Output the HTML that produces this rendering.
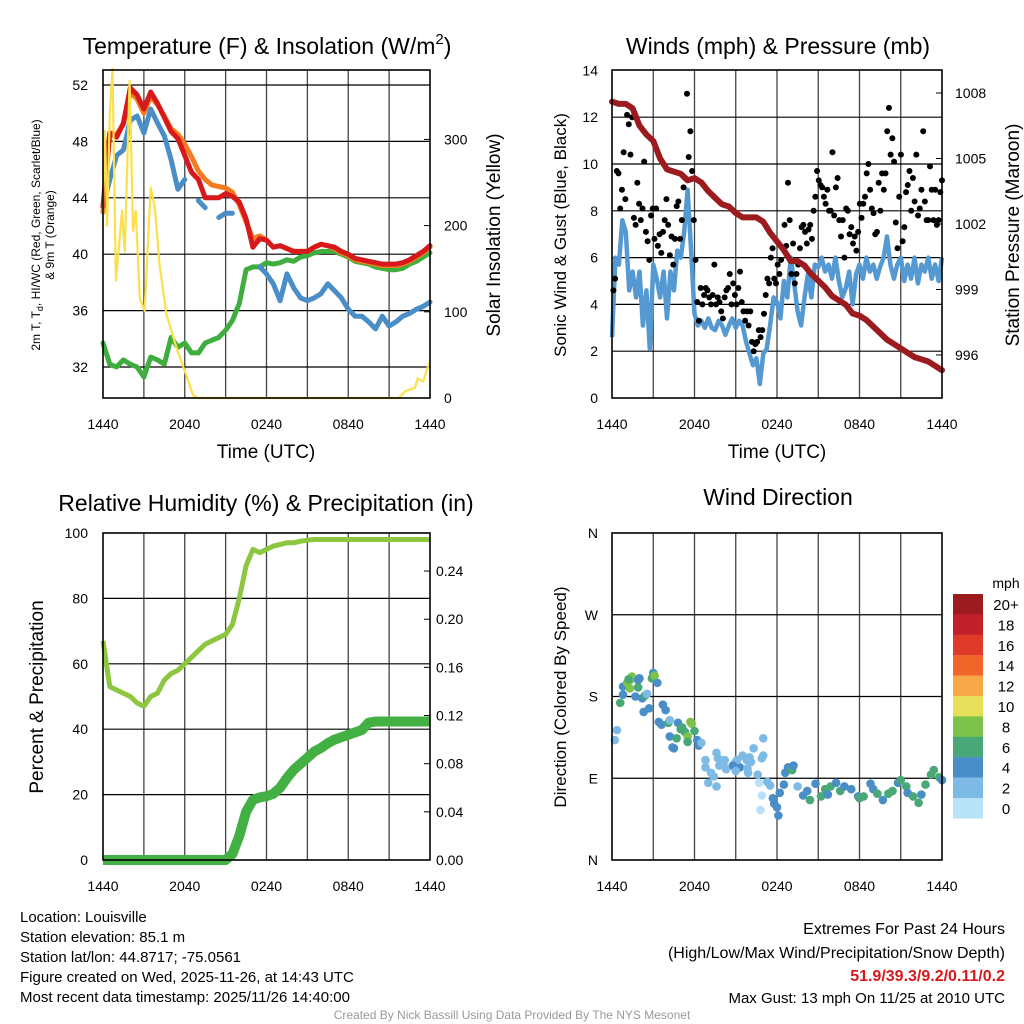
<!DOCTYPE html>
<html><head><meta charset="utf-8"><style>
html,body{margin:0;padding:0;background:#fff;}
svg{display:block;font-family:"Liberation Sans",Arial,sans-serif;}
</style></head><body>
<svg id="c" width="1024" height="1024" viewBox="0 0 1024 1024"></svg>
<script>
// ---------- data ----------
const xTickLabels = ["1440","2040","0240","0840","1440"];
const tempTicks = [32,36,40,44,48,52];
const solarTicks = [0,100,200,300];
const windTicks = [0,2,4,6,8,10,12,14];
const presTicks = [996,999,1002,1005,1008];
const rhTicks = [0,20,40,60,80,100];
const precipTicks = [0,0.04,0.08,0.12,0.16,0.20,0.24];
const precipTickLabels = ["0.00","0.04","0.08","0.12","0.16","0.20","0.24"];
const dirTickDeg = [0,90,180,270,360];
const dirTickLabels = ["N","E","S","W","N"];
const speedBins = ["20+","18","16","14","12","10","8","6","4","2","0"];
const speedColors = ["#9b1b1e","#c0202a","#e03a2b","#f0652a","#f7a745","#e6e05a","#7dc24b","#48a878","#4a8ec8","#7dbbe6","#b8e2f8"];

const tempT2m = [43.4,48.6,48.3,49.3,51.8,51.3,50.3,51.5,50.7,49.7,48.7,48.2,47,45.8,45.3,44,44,44,44.3,44.1,43.7,42.5,40.5,41.1,41,40.5,40.6,40.4,40.2,40.2,40.2,40.5,40.7,40.6,40.5,40.2,40,39.7,39.6,39.5,39.4,39.3,39.3,39.3,39.4,39.6,39.9,40.2,40.6];
const tempT9m = [43.0,48.6,48.5,49.2,51.5,51.0,50.0,51.2,50.6,49.8,48.9,48.5,47.8,46.9,45.9,45.3,44.9,44.8,44.7,44.4,43.5,42.3,41.1,41.3,41.0,40.5,40.6,40.4,40.2,40.2,40.2,40.5,40.7,40.6,40.4,40.1,39.9,39.6,39.5,39.4,39.3,39.2,39.2,39.2,39.3,39.5,39.8,40.1,40.5];
const tempHIWC = [43.4,45.3,47,47.4,49.5,49.8,48.6,50.3,49.3,48.4,46.7,44.6,45.3,null,43.8,43.3,null,42.6,42.9,42.9,null,null,null,39.1,38.6,37.9,36.7,38.6,37.6,36.9,36.7,36.9,37.2,37.9,37.4,36.9,36.1,35.6,35.6,35.2,34.7,35.6,34.9,35.2,35.6,35.8,36.1,36.3,36.6];
const tempTd = [33.7,32.2,32,32.5,32.2,32,31.3,32.7,32.5,32.2,34.1,33.4,33.7,33,33,33.7,33.9,34.1,34.6,35.3,36.5,38.9,39.1,39.1,39.4,39.3,39.4,39.6,39.5,39.8,39.9,40.1,40.2,40.2,40.2,40,39.8,39.5,39.4,39.3,39.1,39,38.9,38.9,39,39.3,39.5,39.8,40.1];
const solarHours = [0,0.15,0.3,0.5,0.7,0.95,1.4,1.6,1.95,2.2,2.4,2.7,3.05,3.5,3.8,4.15,4.65,5.4,6.1,6.6,6.9,21.7,22.2,22.9,23.1,23.5,23.9,24];
const solarValues = [213,310,200,330,382,136,217,170,368,194,217,116,101,244,221,155,97,58,27,4,0,0,8,12,23,19,39,40];

const sonicWind = [2.6,6,5.7,7.6,7.1,4.6,5.4,4.3,5.4,3.1,4.6,2.1,5.7,5.1,4.3,5.4,3.4,5.4,4.6,6.3,6,7.1,8.9,6.3,3.6,3.1,3.3,3,3.4,3,2.9,3.3,3.1,2.7,3.1,3.4,3,3.3,3.1,2.4,1.9,1.4,1.7,0.6,1.9,2.1,3.1,4.3,4.1,3.4,5,4.3,6,4.9,3.7,3.1,4.3,5.3,4.3,5.7,5.6,6,5.4,5.7,5.1,6,5,4.3,4.7,5.4,4,5.3,5.7,5.1,6,5.4,5.7,5.1,5.6,6,6.9,5.7,5.1,5.7,6,5,5.7,5.1,6,4.9,5.7,5.4,6,5.1,5.7,5,6];
const gustValues = [4.6,5.1,9.7,9.6,8.1,8.9,10.5,8.5,12.1,11.7,10.4,12,7.7,7.4,9.2,8.3,7.6,8.1,10.1,7.1,6.7,5.9,7.8,8.1,6.8,8.1,6.5,7,6.2,7.1,7.6,8.5,7.4,6.1,6.9,5.7,6.8,8.2,8.4,6.8,7.6,9,9.4,13,10.3,11.4,9.7,7.6,5.9,4.1,3.3,4.7,4,4.4,4.7,4.6,4.3,4,4.4,5.7,4,4.3,4.1,3.7,3.4,4.3,4.6,4.7,5.3,4,4.9,4.4,4,4.7,5.4,4.1,3.7,3.3,3.7,3.1,3.7,2.4,2,2.3,2.4,2.9,2.6,2.9,3.6,4.4,5.1,4.9,6,6.4,5.1,4.9,5.7,5.3,5.9,6.4,7.4,6.5,9.2,7.6,5.3,6.6,4.9,5.3,5.7,6.4,7.3,7.4,7.1,6.6,7.2,7.4,6.8,8,8.6,9.7,9.3,9.1,9,8.6,8.3,8.9,8,8,10.5,7.8,9,9.4,7.6,6.9,7.6,6,8.1,8,7,7.3,6.6,6.9,6.3,7.1,8.3,7.7,8.3,8.6,9.6,10,8.9,8.1,7.9,7,7.1,9.2,8,9.6,8.9,9.6,11.4,12.4,10.4,11.1,10.1,7.5,6.4,8.6,10.4,6.7,7.3,8.8,9.1,9.7,8,9.4,8.4,10.4,7.8,8.1,8.9,11.4,8.4,7.6,7.6,9.9,8.9,7.6,8.9,7.4,7.6,8.8,9.3];
const pressure = [1007.6,1007.5,1007.5,1007.3,1006.5,1006.1,1005.8,1005,1004.5,1004.4,1004.3,1004,1004.1,1003.9,1003.5,1003.2,1002.9,1002.8,1002.5,1002.3,1002.3,1002.3,1002.1,1001.6,1001.2,1000.8,1000.3,1000.3,1000.1,999.7,999.4,999.1,998.7,998.5,998.3,997.9,997.8,997.6,997.3,997,996.7,996.5,996.3,996.1,995.9,995.8,995.7,995.5,995.3];

const relHum = [67,53,52,51,50,48,47,50,51,55,57,58,60,62,64,66,67,68,69,72,80,90,95,94,95,96,96.5,97,97,97.5,97.8,98,98,98,98,98,98,98,98,98,98,98,98,98,98,98,98,98,98];
const precip = [0,0,0,0,0,0,0,0,0,0,0,0,0,0,0,0,0,0,0,0.005,0.02,0.04,0.05,0.052,0.053,0.055,0.06,0.068,0.075,0.08,0.085,0.09,0.093,0.097,0.1,0.102,0.104,0.106,0.108,0.114,0.115,0.115,0.115,0.115,0.115,0.115,0.115,0.115,0.115];

const dirHours = [0.2,0.36,0.6,0.8,0.8,1.1,1.3,1.45,1.3,1.2,1.7,1.9,1.9,2.0,2.2,2.4,2.55,2.3,2.7,2.9,3.0,3.1,3.3,3.7,3.9,3.4,3.6,4.1,4.2,4.2,4.5,4.4,4.7,4.8,5.1,5.0,5.3,5.7,5.8,5.5,5.5,6.0,6.2,6.3,6.5,6.8,6.8,7.6,7.9,8.2,7.7,8.1,8.8,9.0,9.5,9.8,10.0,10.3,11.0,11.0,10.9,9.3,9.1,7.2,7.0,7.6,7.4,7.8,8.3,8.8,9.0,9.85,10.1,9.9,10.6,10.7,11.3,11.5,10.9,10.8,11.7,11.8,12.0,12.1,12.2,12.5,12.6,12.8,13.1,13.2,13.5,13.9,14.2,14.4,14.8,15.2,15.5,15.7,15.9,16.3,16.6,16.9,17.4,17.9,18.0,18.3,18.8,19.0,19.3,19.7,20.1,20.4,20.8,21.0,21.4,21.5,21.9,22.3,22.5,22.8,23.2,23.4,23.8,24.0];
const dirDegrees = [132,143,173,182,191,195,198,202,189,199,180,198,190,200,178,181,183,163,167,200,206,203,195,171,165,152,149,151,154,136,123,124,134,151,146,144,141,152,150,136,130,142,132,126,129,110,102,118,110,110,112,106,104,108,115,110,113,123,134,115,112,102,110,96,85,81,92,104,100,104,98,101,108,96,94,85,86,82,71,55,68,62,58,49,74,83,96,102,99,104,81,71,76,66,84,70,78,72,81,85,76,81,78,70,68,70,84,78,73,66,73,76,85,88,81,74,70,63,72,83,94,99,91,88];
const dirSpeeds = [2.5,2.5,6.5,4.5,4.5,8.5,8.5,8.5,8.5,6.5,4.5,4.5,6.5,4.5,4.5,6.5,2.5,4.5,4.5,6.5,4.5,8.5,4.5,4.5,4.5,4.5,4.5,6.5,2.5,4.5,4.5,4.5,6.5,4.5,6.5,6.5,6.5,8.5,8.5,8.5,6.5,6.5,4.5,4.5,2.5,2.5,2.5,2.5,2.5,2.5,2.5,2.5,4.5,2.5,2.5,2.5,2.5,2.5,2.5,2.5,2.5,4.5,2.5,2.5,2.5,2.5,2.5,2.5,2.5,4.5,2.5,2.5,2.5,2.5,2.5,1,2.5,2.5,1,1,4.5,4.5,4.5,4.5,4.5,4.5,4.5,4.5,6.5,4.5,2.5,4.5,4.5,6.5,4.5,6.5,6.5,4.5,6.5,4.5,6.5,4.5,4.5,4.5,6.5,6.5,4.5,4.5,6.5,4.5,6.5,6.5,4.5,6.5,6.5,4.5,6.5,6.5,4.5,6.5,6.5,6.5,6.5,4.5];

// ---------- helpers ----------
const NS = "http://www.w3.org/2000/svg";
const svg = document.getElementById("c");
function mk(tag, attrs, parent) {
  const e = document.createElementNS(NS, tag);
  for (const k in attrs) e.setAttribute(k, attrs[k]);
  (parent || svg).appendChild(e);
  return e;
}
function txt(s, x, y, size, anchor, parent, extra) {
  const e = mk("text", Object.assign({x: x, y: y, "font-size": size, "text-anchor": anchor || "middle", fill: "#000"}, extra || {}), parent);
  e.textContent = s;
  return e;
}
function makeX(x0, x1) { return h => x0 + h / 24 * (x1 - x0); }
function pathFrom(xs, ys) {
  let d = "", pen = false;
  for (let i = 0; i < xs.length; i++) {
    if (ys[i] === null || ys[i] === undefined) { pen = false; continue; }
    d += (pen ? "L" : "M") + xs[i].toFixed(1) + " " + ys[i].toFixed(1);
    pen = true;
  }
  return d;
}
function halfHours(n) { const a = []; for (let i = 0; i < n; i++) a.push(i * 24 / (n - 1)); return a; }
function speedColor(s) {
  const idx = Math.min(10, Math.floor(s / 2));
  return speedColors[10 - idx];
}
function frame(x0, y0, x1, y1, g) {
  const xf = makeX(x0, x1);
  for (let h = 3; h < 24; h += 3) {
    const l = mk("line", {x1: xf(h), x2: xf(h), y1: y0, y2: y1, stroke: "#444", "stroke-width": 1.3}, g);
    
    
  }
  xTickLabels.forEach((lab, i) => {
    const t = txt(lab, xf(i * 6), y1 + 31, 14, "middle", g);
    
    
  });
}
function border(x0, y0, x1, y1, g) {
  const r = mk("rect", {x: x0, y: y0, width: x1 - x0, height: y1 - y0, fill: "none", stroke: "#000", "stroke-width": 1.6}, g);
  
  
}
function hline(y, x0, x1, g) {
  const l = mk("line", {x1: x0, x2: x1, y1: y, y2: y, stroke: "#000", "stroke-width": 1.2}, g);
  
  
}

// ================= Panel 1: temperature =================
(function () {
  const g = mk("g", {});
  
  
  const X0 = 103, X1 = 430, Y0 = 70, Y1 = 398;
  const xf = makeX(X0, X1);
  const yT = t => 85 + (52 - t) * 14.1;
  const yS = s => Y1 - s * 0.862;
  frame(X0, Y0, X1, Y1, g);
  tempTicks.forEach(t => {
    hline(yT(t), X0, X1, g);
    const l = txt(String(t), 88, yT(t) + 5, 14, "end", g);
    
    
  });
  solarTicks.forEach(s => {
    mk("line", {x1: X1 - 6, x2: X1, y1: yS(s), y2: yS(s), stroke: "#000"}, g);
    const l = txt(String(s), 444, yS(s) + 5, 14, "start", g);
    
    
  });
  const hh = halfHours(tempT2m.length);
  const xs = hh.map(xf);
  const series = [[tempTd, "#3fae3f", "dewpoint-line"], [tempHIWC, "#4a8ec8", "heat-index-wind-chill-line"], [tempT9m, "#f47b20", "temp-9m-line"], [tempT2m, "#d7191c", "temp-2m-line"]];
  series.forEach(s => {
    const p = mk("path", {d: pathFrom(xs, s[0].map(v => v === null ? null : yT(v))), fill: "none", stroke: s[1], "stroke-width": 5, "stroke-linejoin": "round", "stroke-linecap": "round"}, g);
    
    
  });
  const sp = mk("path", {d: pathFrom(solarHours.map(xf), solarValues.map(yS)), fill: "none", stroke: "#fbe04c", "stroke-width": 2.2, "stroke-linejoin": "round"}, g);
  
  
  border(X0, Y0, X1, Y1, g);
})();

// ================= Panel 2: winds & pressure =================
(function () {
  const g = mk("g", {});
  
  
  const X0 = 612, X1 = 942, Y0 = 70, Y1 = 398;
  const xf = makeX(X0, X1);
  const yW = v => Y1 - v * 23.4;
  const yP = p => 93 + (1008 - p) * 21.83;
  frame(X0, Y0, X1, Y1, g);
  windTicks.forEach(v => {
    if (v > 0 && v < 14) hline(yW(v), X0, X1, g);
    const l = txt(String(v), 598, yW(v) + 5, 14, "end", g);
    
    
  });
  presTicks.forEach(p => {
    mk("line", {x1: X1 - 6, x2: X1, y1: yP(p), y2: yP(p), stroke: "#000"}, g);
    const l = txt(String(p), 955, yP(p) + 5, 14, "start", g);
    
    
  });
  const qh = halfHours(sonicWind.length);
  const wl = mk("path", {d: pathFrom(qh.map(xf), sonicWind.map(yW)), fill: "none", stroke: "#5599d2", "stroke-width": 4.5, "stroke-linejoin": "round"}, g);
  
  
  const n = gustValues.length;
  gustValues.forEach((v, i) => {
    const h = 0.1 + i * (23.9 / (n - 1));
    const c = mk("circle", {cx: xf(h), cy: yW(v), r: 3, fill: "#000"}, g);
    
    
  });
  const ph = halfHours(pressure.length);
  const pl = mk("path", {d: pathFrom(ph.map(xf), pressure.map(yP)), fill: "none", stroke: "#9b1b1e", "stroke-width": 6, "stroke-linejoin": "round", "stroke-linecap": "round"}, g);
  
  
  border(X0, Y0, X1, Y1, g);
})();

// ================= Panel 3: RH & precip =================
(function () {
  const g = mk("g", {});
  
  
  const X0 = 103, X1 = 430, Y0 = 533, Y1 = 860;
  const xf = makeX(X0, X1);
  const yR = v => Y1 - v * 3.27;
  const yPr = p => Y1 - p * 1204;
  frame(X0, Y0, X1, Y1, g);
  rhTicks.forEach(v => {
    if (v > 0 && v < 100) hline(yR(v), X0, X1, g);
    const l = txt(String(v), 88, yR(v) + 5, 14, "end", g);
    
    
  });
  precipTicks.forEach((p, i) => {
    mk("line", {x1: X1 - 6, x2: X1, y1: yPr(p), y2: yPr(p), stroke: "#000"}, g);
    const l = txt(precipTickLabels[i], 436, yPr(p) + 5, 14, "start", g);
    
    
  });
  const hh = halfHours(relHum.length);
  const rl = mk("path", {d: pathFrom(hh.map(xf), relHum.map(yR)), fill: "none", stroke: "#8dc63f", "stroke-width": 5, "stroke-linejoin": "round"}, g);
  
  
  const pl = mk("path", {d: pathFrom(hh.map(xf), precip.map(yPr)), fill: "none", stroke: "#43b043", "stroke-width": 10, "stroke-linejoin": "round"}, g);
  
  
  border(X0, Y0, X1, Y1, g);
})();

// ================= Panel 4: wind direction =================
(function () {
  const g = mk("g", {});
  
  
  const X0 = 612, X1 = 942, Y0 = 533, Y1 = 860;
  const xf = makeX(X0, X1);
  const yD = d => Y1 - d * 0.9083;
  frame(X0, Y0, X1, Y1, g);
  dirTickDeg.forEach((d, i) => {
    if (d > 0 && d < 360) hline(yD(d), X0, X1, g);
    const l = txt(dirTickLabels[i], 598, yD(d) + 5, 14, "end", g);
    
    
  });
  dirHours.forEach((h, i) => {
    const c = mk("circle", {cx: xf(h), cy: yD(dirDegrees[i]), r: 4.3, fill: speedColor(dirSpeeds[i])}, g);
    
    
  });
  border(X0, Y0, X1, Y1, g);
  // colorbar
  const cb = mk("g", {}, g);
  
  
  const ml = txt("mph", 1006, 588, 14, "middle", cb);
  
  
  speedBins.forEach((lab, i) => {
    const y = 594 + i * 20.4;
    const r = mk("rect", {x: 953, y: y, width: 30, height: 20.6, fill: speedColors[i]}, cb);
    
    
    const t = txt(lab, 1006, y + 16, 15, "middle", cb);
    
    
  });
})();

// ================= titles & labels =================
function T(s, x, y, size, name, rot, anchor, extra) {
  const e = txt(s, x, y, size, anchor || "middle", svg, extra);
  if (rot) e.setAttribute("transform", "rotate(-90 " + x + " " + y + ")");
  
  
  return e;
}
const t1 = T("", 267, 54, 23, "temperature-title");
t1.innerHTML = 'Temperature (F) &amp; Insolation (W/m<tspan font-size="15" dy="-10">2</tspan><tspan dy="10">)</tspan>';
T("Winds (mph) & Pressure (mb)", 778, 54, 23, "wind-title");
T("Relative Humidity (%) & Precipitation (in)", 266, 511, 23, "humidity-title");
T("Wind Direction", 778, 505, 23, "direction-title");
T("Time (UTC)", 266, 458, 19, "x-axis-title-temp");
T("Time (UTC)", 777, 458, 19, "x-axis-title-wind");
T("Solar Insolation (Yellow)", 500, 235, 19, "solar-axis-title", true);
const tl = T("", 40, 235, 12, "temp-axis-title", true);
tl.innerHTML = '2m T, T<tspan font-size="9" dy="3">d</tspan><tspan dy="-3">, HI/WC (Red, Green, Scarlet/Blue)</tspan>';
T("& 9m T (Orange)", 54, 235, 12, "temp-axis-title-line2", true);
T("Sonic Wind & Gust (Blue, Black)", 566, 235, 17, "wind-axis-title", true);
T("Station Pressure (Maroon)", 1019, 235, 19, "pressure-axis-title", true);
T("Percent & Precipitation", 43, 697, 19, "percent-axis-title", true);
T("Direction (Colored By Speed)", 566, 697, 17, "direction-axis-title", true);

const info = ["Location: Louisville", "Station elevation: 85.1 m", "Station lat/lon: 44.8717; -75.0561", "Figure created on Wed, 2025-11-26, at 14:43 UTC", "Most recent data timestamp: 2025/11/26 14:40:00"];
info.forEach((s, i) => T(s, 20, 922 + i * 20, 15, "station-info-line", false, "start"));
T("Extremes For Past 24 Hours", 1005, 934, 16, "extremes-heading", false, "end");
T("(High/Low/Max Wind/Precipitation/Snow Depth)", 1005, 958, 16, "extremes-subheading", false, "end");
T("51.9/39.3/9.2/0.11/0.2", 1005, 981, 16, "extremes-values", false, "end", {fill: "#d7191c", "font-weight": "bold"});
T("Max Gust: 13 mph On 11/25 at 2010 UTC", 1005, 1003, 15, "max-gust-text", false, "end");
T("Created By Nick Bassill Using Data Provided By The NYS Mesonet", 512, 1019, 12, "credit-footer", false, "middle", {fill: "#999"});
</script>
</body></html>
